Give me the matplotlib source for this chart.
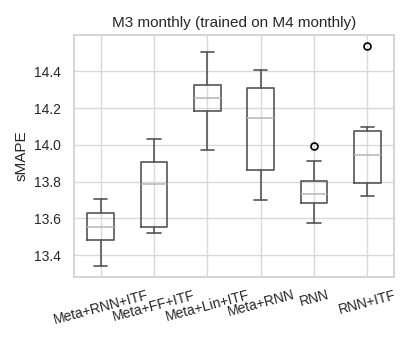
import matplotlib
matplotlib.use("Agg")
import matplotlib.pyplot as plt
import seaborn as sns

sns.set_theme(style="whitegrid")
plt.rcParams['font.family'] = ['Liberation Sans', 'DejaVu Sans']

labels = ["Meta+RNN+ITF", "Meta+FF+ITF", "Meta+Lin+ITF", "Meta+RNN", "RNN", "RNN+ITF"]
whislo = [13.342, 13.523, 13.971, 13.702, 13.574, 13.721]
q1 = [13.483, 13.555, 14.183, 13.864, 13.684, 13.791]
med = [13.554, 13.786, 14.255, 14.148, 13.731, 13.943]
q3 = [13.632, 13.907, 14.327, 14.308, 13.805, 14.075]
whishi = [13.708, 14.034, 14.505, 14.407, 13.912, 14.099]
fliers = [[], [], [], [], [13.994], [14.537]]

stats = []
for i, lab in enumerate(labels):
    stats.append(dict(label=lab, whislo=whislo[i], q1=q1[i], med=med[i],
                      q3=q3[i], whishi=whishi[i], fliers=fliers[i]))

fig = plt.figure(figsize=(4.13, 3.44), dpi=100)
ax = fig.add_axes([0.179, 0.195, 0.775, 0.703])
box_c = "#555555"
ax.bxp(stats, widths=0.5,
       boxprops=dict(color=box_c, linewidth=1.2),
       whiskerprops=dict(color=box_c, linewidth=1.2),
       capprops=dict(color=box_c, linewidth=1.2),
       medianprops=dict(color="#bbbbbb", linewidth=1.2),
       flierprops=dict(marker="o", markerfacecolor="none", markeredgecolor="black",
                       markersize=5, markeredgewidth=1.2))
ax.set_xlim(0.5, 6.5)
ax.set_ylim(13.282, 14.597)
ax.set_yticks([13.4, 13.6, 13.8, 14.0, 14.2, 14.4])
ax.set_yticklabels(["13.4", "13.6", "13.8", "14.0", "14.2", "14.4"], fontsize=10)
ax.set_xticks(range(1, 7))
ax.set_xticklabels(labels, rotation=15, ha="center", fontsize=10)
ax.tick_params(axis='x', pad=2)
ax.grid(True, axis='both', color="#d9d9d9", linewidth=1)
for s in ax.spines.values():
    s.set_color("#d0d0d0")
ax.set_title("M3 monthly (trained on M4 monthly)", fontsize=11)
ax.set_ylabel("sMAPE", fontsize=11)
fig.savefig("out.png", dpi=100)
